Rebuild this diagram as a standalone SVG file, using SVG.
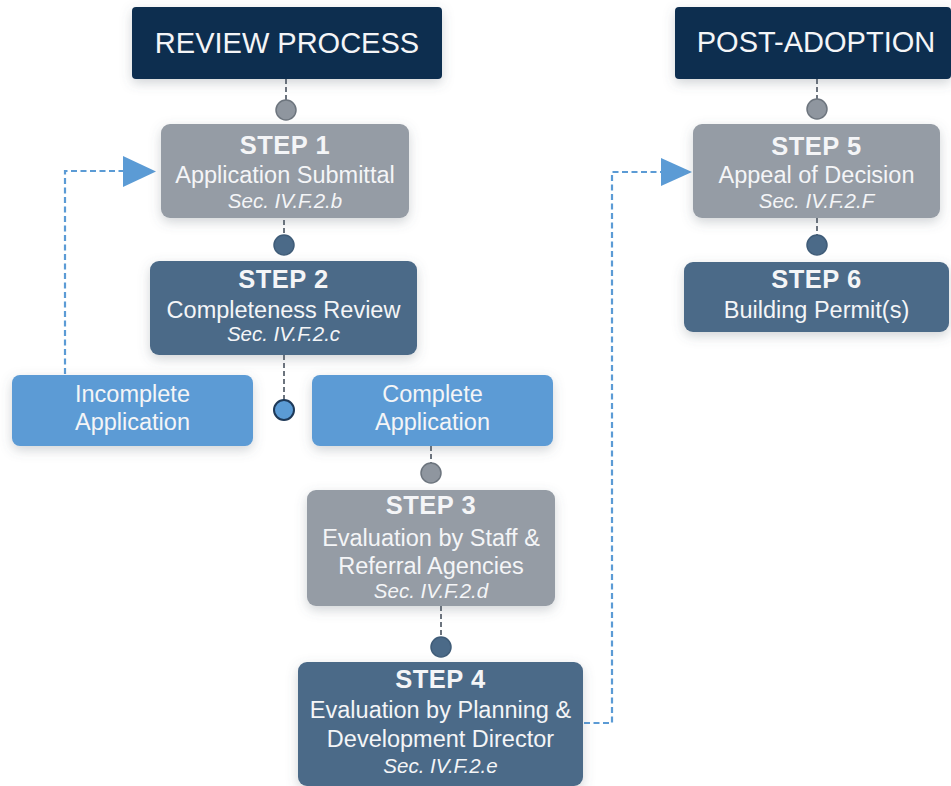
<svg xmlns="http://www.w3.org/2000/svg" width="951" height="786" viewBox="0 0 951 786">
  <defs>
    <filter id="shadow" x="-20%" y="-30%" width="140%" height="170%">
      <feDropShadow dx="0" dy="4" stdDeviation="6" flood-color="#5a6470" flood-opacity="0.28"/>
    </filter>
    <style>
      .header { fill: #0e2e50; }
      .gray { fill: #959ca5; }
      .dark { fill: #4b6a88; }
      .light { fill: #5b9bd5; }
      text { font-family: "Liberation Sans", Arial, sans-serif; fill: #f4f5f7; text-anchor: middle; }
      .title { font-size: 29px; }
      .step { font-size: 25.5px; font-weight: bold; letter-spacing: 0.5px; }
      .body { font-size: 23.5px; }
      .sec { font-size: 20.5px; font-style: italic; }
      .link { fill: none; stroke: #6c747e; stroke-width: 2; stroke-dasharray: 5 3; }
      .loop { fill: none; stroke: #5b9bd5; stroke-width: 2.2; stroke-dasharray: 6 3.5; }
      .dot-gray { fill: #8f969f; stroke: #6d757e; stroke-width: 1.5; }
      .dot-dark { fill: #4b6a88; stroke: #3f5c78; stroke-width: 1.5; }
      .dot-blue { fill: #5b9bd5; stroke: #1e3958; stroke-width: 2; }
      .arrowhead { fill: #5b9bd5; }
    </style>
  </defs>

  <rect width="951" height="786" fill="#ffffff"/>

  <!-- connectors -->
  <g id="connectors">
    <line class="link" x1="286" y1="79" x2="286" y2="100"/>
    <line class="link" x1="284" y1="212" x2="284" y2="235"/>
    <line class="link" x1="284" y1="355" x2="284" y2="400"/>
    <line class="link" x1="431" y1="446" x2="431" y2="463"/>
    <line class="link" x1="441" y1="606" x2="441" y2="637"/>
    <line class="link" x1="817" y1="79" x2="817" y2="99"/>
    <line class="link" x1="817" y1="218" x2="817" y2="235"/>

    <path class="loop" d="M65,374 V171 H124"/>
    <polygon class="arrowhead" points="123,156 156,171.5 123,187"/>

    <path class="loop" d="M584,723 H612 V172 H662"/>
    <polygon class="arrowhead" points="661,158 692,172 661,186"/>
  </g>

  <!-- headers -->
  <g id="review-process">
    <rect class="header" x="132" y="7" width="310" height="72" rx="4" filter="url(#shadow)"/>
    <text class="title" x="287" y="53">REVIEW PROCESS</text>
  </g>
  <g id="post-adoption">
    <rect class="header" x="675" y="7" width="276" height="72" rx="4" filter="url(#shadow)"/>
    <text class="title" x="816" y="52">POST-ADOPTION</text>
  </g>

  <!-- steps -->
  <g id="step1">
    <rect class="gray" x="161" y="124" width="248" height="94" rx="9" filter="url(#shadow)"/>
    <text class="step" x="285" y="154">STEP 1</text>
    <text class="body" x="285" y="183">Application Submittal</text>
    <text class="sec" x="285" y="208">Sec. IV.F.2.b</text>
  </g>
  <g id="step2">
    <rect class="dark" x="150" y="261" width="267" height="94" rx="9" filter="url(#shadow)"/>
    <text class="step" x="283.5" y="288">STEP 2</text>
    <text class="body" x="283.5" y="318">Completeness Review</text>
    <text class="sec" x="283.5" y="341">Sec. IV.F.2.c</text>
  </g>
  <g id="incomplete">
    <rect class="light" x="12" y="375" width="241" height="71" rx="8" filter="url(#shadow)"/>
    <text class="body" x="132.5" y="402">Incomplete</text>
    <text class="body" x="132.5" y="430">Application</text>
  </g>
  <g id="complete">
    <rect class="light" x="312" y="375" width="241" height="71" rx="8" filter="url(#shadow)"/>
    <text class="body" x="432.5" y="402">Complete</text>
    <text class="body" x="432.5" y="430">Application</text>
  </g>
  <g id="step3">
    <rect class="gray" x="307" y="490" width="248" height="116" rx="9" filter="url(#shadow)"/>
    <text class="step" x="431" y="514">STEP 3</text>
    <text class="body" x="431" y="546">Evaluation by Staff &amp;</text>
    <text class="body" x="431" y="574">Referral Agencies</text>
    <text class="sec" x="431" y="598">Sec. IV.F.2.d</text>
  </g>
  <g id="step4">
    <rect class="dark" x="298" y="662" width="285" height="124" rx="9" filter="url(#shadow)"/>
    <text class="step" x="440.5" y="688">STEP 4</text>
    <text class="body" x="440.5" y="718">Evaluation by Planning &amp;</text>
    <text class="body" x="440.5" y="747">Development Director</text>
    <text class="sec" x="440.5" y="773">Sec. IV.F.2.e</text>
  </g>
  <g id="step5">
    <rect class="gray" x="693" y="124" width="247" height="94" rx="9" filter="url(#shadow)"/>
    <text class="step" x="816.5" y="155">STEP 5</text>
    <text class="body" x="816.5" y="183">Appeal of Decision</text>
    <text class="sec" x="816.5" y="208">Sec. IV.F.2.F</text>
  </g>
  <g id="step6">
    <rect class="dark" x="684" y="262" width="265" height="70" rx="9" filter="url(#shadow)"/>
    <text class="step" x="816.5" y="288">STEP 6</text>
    <text class="body" x="816.5" y="318">Building Permit(s)</text>
  </g>

  <!-- junction dots -->
  <g id="dots">
    <circle class="dot-gray" cx="286" cy="110" r="10"/>
    <circle class="dot-dark" cx="284" cy="245" r="10"/>
    <circle class="dot-blue" cx="284" cy="410" r="10"/>
    <circle class="dot-gray" cx="431" cy="473" r="10"/>
    <circle class="dot-dark" cx="441" cy="647" r="10"/>
    <circle class="dot-gray" cx="817" cy="109" r="10"/>
    <circle class="dot-dark" cx="817" cy="245" r="10"/>
  </g>
</svg>
